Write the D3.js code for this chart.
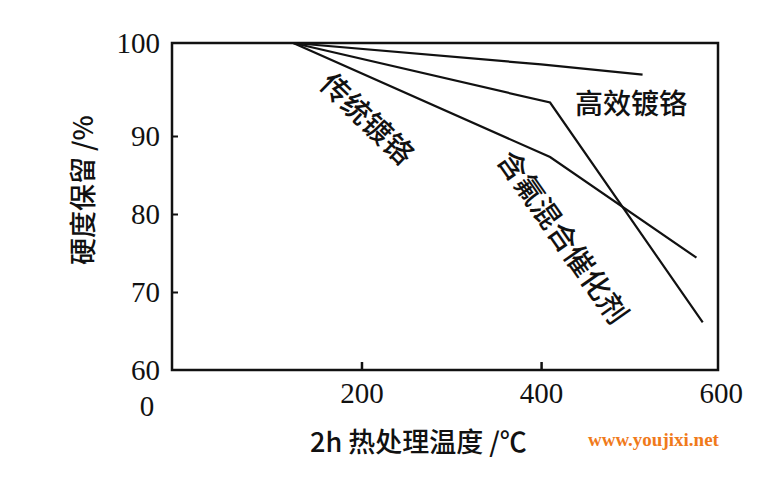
<!DOCTYPE html><html><head><meta charset="utf-8">
<script src="https://cdn.jsdelivr.net/npm/d3@7"></script>
<style>body{margin:0;background:#fff}</style></head><body>
<svg id="c" width="769" height="477"></svg>
<script>
const xTicks=[200,400,600];
const yTicks=[60,70,80,90,100];
const seriesNames=["高效镀铬","含氟混合催化剂","传统镀铬"];
const efficientX=[124,400,513], efficientY=[100,97.7,96.6];
const fluorineX=[124,410,580], fluorineY=[100,93.6,66.1];
const traditionalX=[124,410,573], traditionalY=[100,87.3,74.4];

const svg=d3.select("#c");
const x=d3.scaleLinear().domain([-11,597]).range([172,718]);
const y=d3.scaleLinear().domain([60,90,100]).range([370,136,43]);
const serif="Liberation Serif, DejaVu Serif, serif";
const cjk="Noto Sans CJK SC, sans-serif";

svg.append("rect").attr("x",172).attr("y",43).attr("width",546).attr("height",327)
 .attr("fill","none").attr("stroke","#111").attr("stroke-width",2.5);
const ax=svg.append("g").attr("transform","translate(0,370)")
 .call(d3.axisBottom(x).tickValues(xTicks).tickSize(-8).tickPadding(12).tickFormat(d3.format("d")));
ax.select(".domain").remove();
ax.selectAll("line").attr("stroke","#111").attr("stroke-width",2.5).filter(d=>d===600).remove();
ax.selectAll("text").attr("font-family",serif).attr("font-size",29).attr("fill","#111");
const ay=svg.append("g").attr("transform","translate(172,0)")
 .call(d3.axisLeft(y).tickValues(yTicks).tickSize(-6).tickPadding(12));
ay.select(".domain").remove();
ay.selectAll("line").attr("stroke","#111").attr("stroke-width",2).filter(d=>d===60||d===100).remove();
ay.selectAll("text").attr("font-family",serif).attr("font-size",29).attr("fill","#111");
svg.append("text").attr("x",147).attr("y",416).attr("text-anchor","middle")
 .attr("font-family",serif).attr("font-size",29).attr("fill","#111").text("0");

const line=d3.line().x(d=>x(d[0])).y(d=>y(d[1]));
[[efficientX,efficientY],[fluorineX,fluorineY],[traditionalX,traditionalY]].forEach(([xs,ys])=>{
 svg.append("path").attr("d",line(xs.map((v,i)=>[v,ys[i]])))
  .attr("fill","none").attr("stroke","#111").attr("stroke-width",2.2);
});

svg.append("text").attr("x",575).attr("y",114).attr("font-family",cjk).attr("font-size",28)
 .attr("font-weight",500).attr("fill","#111").text(seriesNames[0]);
svg.append("text").attr("transform","translate(318,86) rotate(44)").attr("font-family",cjk)
 .attr("font-size",29).attr("font-weight",500).attr("fill","#111").text(seriesNames[2]);
svg.append("text").attr("transform","translate(496,160) rotate(55)").attr("font-family",cjk)
 .attr("font-size",29).attr("font-weight",500).attr("fill","#111").text(seriesNames[1]);

svg.append("text").attr("transform","translate(93,190) rotate(-90)").attr("text-anchor","middle")
 .attr("font-family",cjk).attr("font-size",27).attr("font-weight",500).attr("fill","#111").text("硬度保留 /%");
svg.append("text").attr("x",310).attr("y",452).attr("font-family",cjk).attr("font-size",27)
 .attr("font-weight",500).attr("fill","#111").text("2h 热处理温度 /℃");
svg.append("text").attr("x",588).attr("y",446).attr("font-family",serif).attr("font-weight","bold")
 .attr("font-size",19).attr("fill","#f07a1a").text("www.youjixi.net");
</script></body></html>
